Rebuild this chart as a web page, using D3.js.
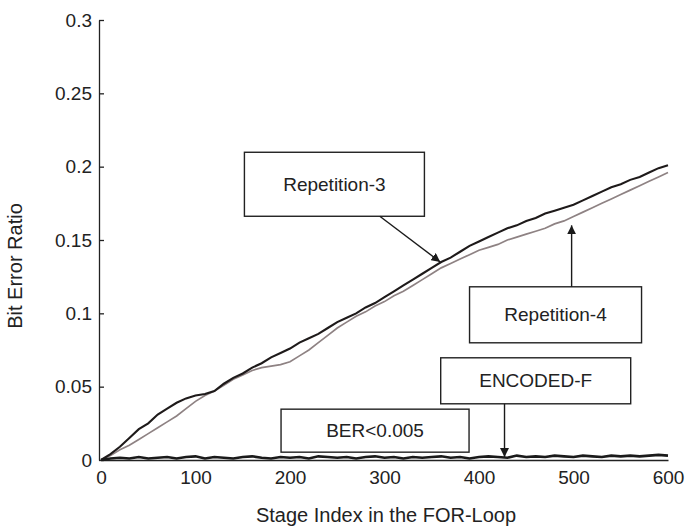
<!DOCTYPE html>
<html>
<head>
<meta charset="utf-8">
<title>Bit Error Ratio</title>
<script src="https://d3js.org/d3.v7.min.js"></script>
<style>
body { margin: 0; background: #fff; }
text { font-family: "Liberation Sans", Arial, Helvetica, sans-serif; fill: #222; }
</style>
</head>
<body>
<div id="chart"></div>
<script>
var width = 688,
    height = 528;

// stage index, every 10 stages of the FOR-loop
var stages = d3.range(0, 601, 10);

var rep3 = [0, 0.004, 0.009, 0.015, 0.021, 0.025, 0.031, 0.035, 0.039, 0.042,
            0.044, 0.045, 0.047, 0.052, 0.056, 0.059, 0.063, 0.066, 0.070, 0.073,
            0.076, 0.080, 0.083, 0.086, 0.090, 0.094, 0.097, 0.100, 0.104, 0.107,
            0.111, 0.115, 0.119, 0.123, 0.127, 0.131, 0.135, 0.138, 0.142, 0.146,
            0.149, 0.152, 0.155, 0.158, 0.160, 0.163, 0.165, 0.168, 0.170, 0.172,
            0.174, 0.177, 0.180, 0.183, 0.186, 0.188, 0.191, 0.193, 0.196, 0.199,
            0.201];

var rep4 = [0, 0.003, 0.007, 0.010, 0.014, 0.018, 0.022, 0.026, 0.030, 0.035,
            0.040, 0.044, 0.047, 0.051, 0.055, 0.058, 0.061, 0.063, 0.064, 0.065,
            0.067, 0.071, 0.075, 0.080, 0.085, 0.090, 0.094, 0.098, 0.101, 0.105,
            0.108, 0.112, 0.115, 0.119, 0.123, 0.127, 0.131, 0.134, 0.137, 0.140,
            0.143, 0.145, 0.147, 0.150, 0.152, 0.154, 0.156, 0.158, 0.161, 0.163,
            0.166, 0.169, 0.172, 0.175, 0.178, 0.181, 0.184, 0.187, 0.190, 0.193,
            0.196];

var encodedF = [0, 0.001, 0.0015, 0.001, 0.002, 0.001, 0.0015, 0.002, 0.001, 0.002,
                0.0025, 0.001, 0.002, 0.0015, 0.001, 0.002, 0.0025, 0.0015, 0.001, 0.002,
                0.0015, 0.002, 0.001, 0.0025, 0.002, 0.0015, 0.002, 0.001, 0.002, 0.0025,
                0.0015, 0.002, 0.001, 0.002, 0.0015, 0.002, 0.0025, 0.0015, 0.002, 0.001,
                0.002, 0.0025, 0.002, 0.0015, 0.003, 0.002, 0.0025, 0.002, 0.003, 0.0025,
                0.002, 0.003, 0.0025, 0.002, 0.003, 0.0025, 0.003, 0.0025, 0.003, 0.0035,
                0.003];

var xTicks = [0, 100, 200, 300, 400, 500, 600];
var yTicks = [0, 0.05, 0.1, 0.15, 0.2, 0.25, 0.3];

// callout labels: box centre and arrow tip in data units
var notes = [
  {text: "Repetition-3", cx: 247, cy: 0.188, w: 180, h: 64, from: 295, tip: [359, 0.135]},
  {text: "Repetition-4", cx: 481, cy: 0.099, w: 172, h: 56, from: 498, tip: [498, 0.160], up: true},
  {text: "ENCODED-F", cx: 460, cy: 0.054, w: 190, h: 46, from: 427, tip: [427, 0.002]},
  {text: "BER<0.005", cx: 290, cy: 0.020, w: 188, h: 43}
];

var svg = d3.select("#chart")
    .append("svg")
    .attr("width", width)
    .attr("height", height);

var x = d3.scaleLinear().domain([0, 600]).range([101, 668]);
var y = d3.scaleLinear().domain([0, 0.3]).range([460, 20]);

svg.append("defs").append("marker")
    .attr("id", "head")
    .attr("viewBox", "0 0 10 10")
    .attr("refX", 10).attr("refY", 5)
    .attr("markerWidth", 9).attr("markerHeight", 9)
    .attr("markerUnits", "userSpaceOnUse")
    .attr("orient", "auto")
  .append("path")
    .attr("d", "M0,0 L10,5 L0,10 z")
    .attr("fill", "#1a1a1a");

var gX = svg.append("g")
    .attr("transform", "translate(0," + y(0) + ")")
    .call(d3.axisBottom(x).tickValues(xTicks).tickSize(0).tickPadding(11));

var gY = svg.append("g")
    .attr("transform", "translate(" + (x(0) - 2) + ",0)")
    .call(d3.axisLeft(y).tickValues(yTicks).tickSizeInner(-5).tickSizeOuter(0).tickPadding(7)
      .tickFormat(d => d === 0 ? "0" : String(+d.toFixed(2))));

svg.selectAll(".domain, .tick line").attr("stroke", "#222").attr("stroke-width", 1.3);
svg.selectAll(".tick text").style("font-size", "19px").attr("fill", "#222");

var line = d3.line()
    .x((d, i) => x(stages[i]))
    .y(d => y(d));

svg.append("path").datum(rep4)
    .attr("d", line).attr("fill", "none")
    .attr("stroke", "#8e8283").attr("stroke-width", 1.7);

svg.append("path").datum(rep3)
    .attr("d", line).attr("fill", "none")
    .attr("stroke", "#1e1a1a").attr("stroke-width", 2.1);

svg.append("path").datum(encodedF)
    .attr("d", line).attr("fill", "none")
    .attr("stroke", "#1a1a1a").attr("stroke-width", 2.6);

// callout boxes and arrows
notes.forEach(function(n) {
  var px = x(n.cx), py = y(n.cy);
  svg.append("rect")
      .attr("x", px - n.w / 2).attr("y", py - n.h / 2)
      .attr("width", n.w).attr("height", n.h)
      .attr("fill", "#fff").attr("stroke", "#222").attr("stroke-width", 1.4);
  svg.append("text")
      .attr("x", px).attr("y", py)
      .attr("text-anchor", "middle").attr("dy", "0.35em")
      .style("font-size", "19px")
      .text(n.text);
  if (n.tip) {
    var y0 = n.up ? py - n.h / 2 : py + n.h / 2;
    svg.append("line")
        .attr("x1", x(n.from)).attr("y1", y0)
        .attr("x2", x(n.tip[0])).attr("y2", y(n.tip[1]))
        .attr("stroke", "#1a1a1a").attr("stroke-width", 1.4)
        .attr("marker-end", "url(#head)");
  }
});

svg.append("text")
    .attr("x", 386).attr("y", 522)
    .attr("text-anchor", "middle")
    .style("font-size", "20px")
    .text("Stage Index in the FOR-Loop");

svg.append("text")
    .attr("transform", "translate(22,266) rotate(-90)")
    .attr("text-anchor", "middle")
    .style("font-size", "20px")
    .text("Bit Error Ratio");
</script>
</body>
</html>
